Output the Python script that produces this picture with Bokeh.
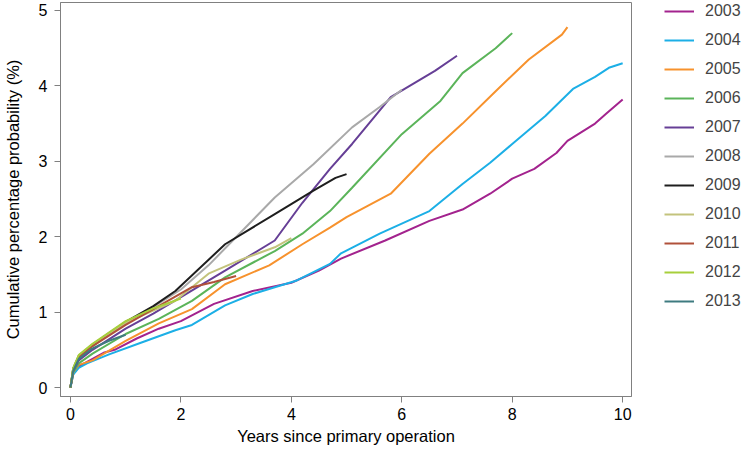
from bokeh.plotting import figure
from bokeh.models import Range1d, Legend, LegendItem, FixedTicker
from bokeh.layouts import row
from bokeh.embed import file_html
from bokeh.resources import INLINE

years = ["2003", "2004", "2005", "2006", "2007", "2008", "2009", "2010", "2011", "2012", "2013"]
colors = ["#A3238E", "#1CAFE6", "#F7922D", "#5BB45A", "#663F96", "#A9A9A9",
          "#1E1E1E", "#C3C37C", "#B0513A", "#A7CF3B", "#3E7B80"]

x2003 = [0, 0.05, 0.15, 0.3, 0.6, 0.8, 1.2, 1.6, 2.0, 2.6, 3.3, 4.0, 4.5, 4.9, 5.7, 6.5, 7.1, 7.6, 8.0, 8.4, 8.8, 9.0, 9.5, 9.7, 10.0]
y2003 = [0, 0.18, 0.28, 0.34, 0.46, 0.50, 0.65, 0.78, 0.88, 1.11, 1.28, 1.39, 1.55, 1.71, 1.95, 2.21, 2.36, 2.57, 2.77, 2.90, 3.11, 3.27, 3.50, 3.63, 3.82]
x2004 = [0, 0.05, 0.15, 0.3, 0.7, 1.3, 1.9, 2.2, 2.8, 3.3, 3.7, 4.1, 4.7, 4.9, 5.6, 6.5, 7.1, 7.6, 8.0, 8.6, 9.1, 9.5, 9.75, 10.0]
y2004 = [0, 0.17, 0.26, 0.32, 0.44, 0.60, 0.76, 0.83, 1.09, 1.24, 1.33, 1.42, 1.64, 1.78, 2.04, 2.34, 2.70, 2.98, 3.23, 3.60, 3.96, 4.12, 4.24, 4.30]
x2005 = [0, 0.05, 0.15, 0.4, 1.0, 1.6, 2.2, 2.8, 3.6, 4.2, 4.7, 5.0, 5.8, 6.5, 7.1, 7.7, 8.3, 8.9, 9.0]
y2005 = [0, 0.20, 0.30, 0.36, 0.62, 0.85, 1.04, 1.37, 1.62, 1.90, 2.12, 2.26, 2.57, 3.10, 3.50, 3.93, 4.35, 4.68, 4.78]
x2006 = [0, 0.05, 0.15, 0.4, 1.0, 1.6, 2.2, 2.8, 3.7, 4.2, 4.7, 5.1, 6.0, 6.7, 7.1, 7.7, 8.0]
y2006 = [0, 0.20, 0.32, 0.45, 0.71, 0.91, 1.15, 1.46, 1.81, 2.04, 2.34, 2.65, 3.36, 3.80, 4.17, 4.50, 4.70]
x2007 = [0, 0.05, 0.15, 0.4, 1.0, 1.5, 2.0, 2.8, 3.7, 4.2, 4.7, 5.1, 5.8, 6.6, 7.0]
y2007 = [0, 0.22, 0.36, 0.50, 0.78, 0.98, 1.20, 1.55, 1.95, 2.45, 2.90, 3.23, 3.85, 4.20, 4.40]
x2008 = [0, 0.05, 0.15, 0.4, 1.0, 1.5, 2.0, 2.5, 2.9, 3.7, 4.4, 5.1, 5.6, 6.0]
y2008 = [0, 0.25, 0.40, 0.55, 0.85, 1.07, 1.30, 1.62, 1.92, 2.52, 2.96, 3.45, 3.72, 3.95]
x2009 = [0, 0.05, 0.15, 0.4, 1.0, 1.5, 1.9, 2.8, 3.7, 4.4, 4.8, 5.0]
y2009 = [0, 0.25, 0.42, 0.57, 0.87, 1.08, 1.28, 1.90, 2.30, 2.61, 2.78, 2.83]
x2010 = [0, 0.05, 0.15, 0.4, 1.0, 1.5, 1.9, 2.5, 3.1, 3.7, 4.0]
y2010 = [0, 0.25, 0.42, 0.57, 0.86, 1.02, 1.15, 1.51, 1.70, 1.86, 1.98]
x2011 = [0, 0.05, 0.15, 0.4, 1.0, 1.5, 2.2, 2.6, 3.0]
y2011 = [0, 0.24, 0.40, 0.55, 0.83, 1.04, 1.33, 1.40, 1.48]
x2012 = [0, 0.05, 0.15, 0.4, 1.0, 1.5, 2.0]
y2012 = [0, 0.26, 0.43, 0.58, 0.88, 1.05, 1.18]
x2013 = [0, 0.05, 0.15, 0.4, 0.7, 1.0]
y2013 = [0, 0.22, 0.38, 0.52, 0.62, 0.70]

xs = [x2003, x2004, x2005, x2006, x2007, x2008, x2009, x2010, x2011, x2012, x2013]
ys = [y2003, y2004, y2005, y2006, y2007, y2008, y2009, y2010, y2011, y2012, y2013]

x_ticks = [0, 2, 4, 6, 8, 10]
y_ticks = [0, 1, 2, 3, 4, 5]

FONT = "Liberation Sans"
AX = "#808080"
H = 449
NAN = float("nan")

p = figure(width=632, height=H, output_backend="svg", toolbar_location=None,
           x_range=Range1d(-0.18, 10.16), y_range=Range1d(-0.119, 5.106),
           min_border_left=57, min_border_right=1, min_border_top=2, min_border_bottom=53)
p.background_fill_color = "white"
p.border_fill_color = "white"
p.outline_line_color = AX
p.outline_line_width = 1
p.grid.visible = False

for ax in (p.xaxis[0], p.yaxis[0]):
    ax.axis_line_color = AX
    ax.major_tick_line_color = AX
    ax.minor_tick_line_color = None
    ax.major_tick_in = 0
    ax.major_tick_out = 6
    ax.major_label_text_font = FONT
    ax.major_label_text_font_size = "16px"
    ax.major_label_text_color = "black"
    ax.axis_label_text_font = FONT
    ax.axis_label_text_font_size = "16.5px"
    ax.axis_label_text_font_style = "normal"
    ax.axis_label_text_color = "black"

p.xaxis[0].ticker = FixedTicker(ticks=x_ticks)
p.yaxis[0].ticker = FixedTicker(ticks=y_ticks)
p.xaxis[0].axis_label = "Years since primary operation"
p.yaxis[0].axis_label = "Cumulative percentage probability (%)"
p.xaxis[0].major_label_standoff = 5
p.yaxis[0].major_label_standoff = 7
p.xaxis[0].axis_label_standoff = 4
p.yaxis[0].axis_label_standoff = 14

for yr, c, x, y in zip(years, colors, xs, ys):
    p.line(x, y, line_color=c, line_width=2)

# legend panel (frame is aligned with the main plot's frame by the row layout)
lg = figure(width=110, height=H, output_backend="svg", toolbar_location=None,
            x_range=Range1d(0, 1), y_range=Range1d(0, 1),
            min_border_left=0, min_border_right=0, min_border_top=2, min_border_bottom=53)
lg.axis.visible = False
lg.grid.visible = False
lg.outline_line_color = None
lg.background_fill_color = "white"
lg.border_fill_color = "white"

items = []
for yr, c in zip(years, colors):
    r = lg.line([NAN, NAN], [NAN, NAN], line_color=c, line_width=2)
    items.append(LegendItem(label=yr, renderers=[r]))

n = len(years)
gh = 18
sp = 11
leg_h = n * gh + (n - 1) * sp
frame_h = H - 2 - 53
legend = Legend(items=items, location=(32, frame_h - leg_h), orientation="vertical",
                glyph_width=30, glyph_height=gh, label_height=gh, label_standoff=11,
                spacing=sp, padding=0, margin=0,
                label_text_font=FONT, label_text_font_size="16px",
                border_line_color=None, background_fill_alpha=0)
lg.add_layout(legend, "center")

layout = row(p, lg, spacing=0)
open("out.html", "w").write(file_html(layout, INLINE))
